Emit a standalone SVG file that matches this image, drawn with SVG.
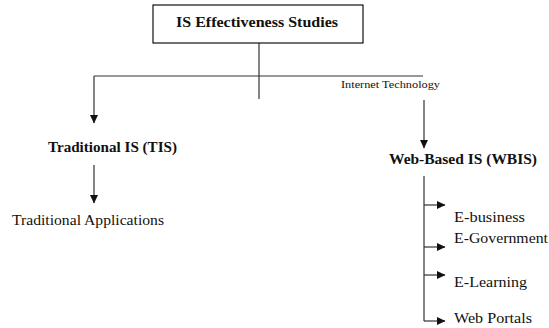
<svg xmlns="http://www.w3.org/2000/svg" width="549" height="328" viewBox="0 0 549 328">
<defs>
<style>
.t{font-family:"Liberation Serif","Times New Roman",serif;fill:#111;}
.b{font-weight:bold;font-size:15px;}
.r{font-size:15px;}
.s{font-size:11px;}
.ln{stroke:#333;stroke-width:1.2;fill:none;}
.box{fill:#fff;stroke:#111;stroke-width:1.2;}
</style>
<marker id="ah" markerUnits="userSpaceOnUse" markerWidth="9" markerHeight="9" refX="8" refY="4.5" orient="auto" viewBox="0 0 9 9">
<path d="M0,0.5 L8.5,4.5 L0,8.5 z" fill="#111"/>
</marker>
</defs>
<rect width="549" height="328" fill="#fff"/>
<g id="connectors">
<path class="ln" d="M259,43 V99"/>
<path class="ln" d="M94,76 H423"/>
<path class="ln" d="M94,76 V123" marker-end="url(#ah)"/>
<path class="ln" d="M94,165 V203" marker-end="url(#ah)"/>
<path class="ln" d="M424,100 V148" marker-end="url(#ah)"/>
<path class="ln" d="M424,176 V321"/>
<path class="ln" d="M424,205 H445" marker-end="url(#ah)"/>
<path class="ln" d="M424,247 H445" marker-end="url(#ah)"/>
<path class="ln" d="M424,275 H445" marker-end="url(#ah)"/>
<path class="ln" d="M424,321 H445" marker-end="url(#ah)"/>
</g>
<g id="root">
<rect class="box" x="153" y="5" width="210" height="38"/>
<text class="t b" x="176" y="27" textLength="162" lengthAdjust="spacingAndGlyphs">IS Effectiveness Studies</text>
</g>
<g id="label-internet">
<text class="t s" x="341" y="88" textLength="99" lengthAdjust="spacingAndGlyphs">Internet Technology</text>
</g>
<g id="tis">
<text class="t b" x="48" y="152" textLength="129" lengthAdjust="spacingAndGlyphs">Traditional IS (TIS)</text>
</g>
<g id="trad-apps">
<text class="t r" x="12" y="225" textLength="152" lengthAdjust="spacingAndGlyphs">Traditional Applications</text>
</g>
<g id="wbis">
<text class="t b" x="389" y="164" textLength="148" lengthAdjust="spacingAndGlyphs">Web-Based IS (WBIS)</text>
</g>
<g id="ebusiness">
<text class="t r" x="454" y="222" textLength="71" lengthAdjust="spacingAndGlyphs">E-business</text>
</g>
<g id="egov">
<text class="t r" x="454" y="243" textLength="94" lengthAdjust="spacingAndGlyphs">E-Government</text>
</g>
<g id="elearning">
<text class="t r" x="454" y="287" textLength="73" lengthAdjust="spacingAndGlyphs">E-Learning</text>
</g>
<g id="webportals">
<text class="t r" x="454" y="323" textLength="78" lengthAdjust="spacingAndGlyphs">Web Portals</text>
</g>
</svg>
